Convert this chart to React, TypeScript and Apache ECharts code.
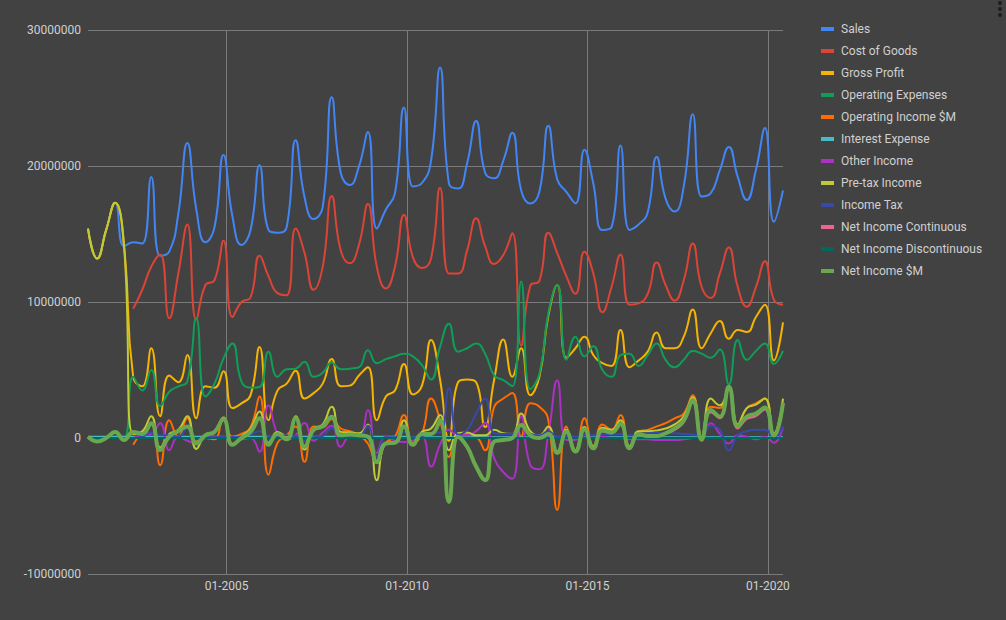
import React, { useEffect, useRef } from "react";
import * as echarts from "echarts";

// quarter ends, March 2001 .. June 2020
const quarters = [
  "2001-03", "2001-06", "2001-09", "2001-12",
  "2002-03", "2002-06", "2002-09", "2002-12",
  "2003-03", "2003-06", "2003-09", "2003-12",
  "2004-03", "2004-06", "2004-09", "2004-12",
  "2005-03", "2005-06", "2005-09", "2005-12",
  "2006-03", "2006-06", "2006-09", "2006-12",
  "2007-03", "2007-06", "2007-09", "2007-12",
  "2008-03", "2008-06", "2008-09", "2008-12",
  "2009-03", "2009-06", "2009-09", "2009-12",
  "2010-03", "2010-06", "2010-09", "2010-12",
  "2011-03", "2011-06", "2011-09", "2011-12",
  "2012-03", "2012-06", "2012-09", "2012-12",
  "2013-03", "2013-06", "2013-09", "2013-12",
  "2014-03", "2014-06", "2014-09", "2014-12",
  "2015-03", "2015-06", "2015-09", "2015-12",
  "2016-03", "2016-06", "2016-09", "2016-12",
  "2017-03", "2017-06", "2017-09", "2017-12",
  "2018-03", "2018-06", "2018-09", "2018-12",
  "2019-03", "2019-06", "2019-09", "2019-12",
  "2020-03", "2020-06",
];

const xTicks = ["2005-01-01", "2010-01-01", "2015-01-01", "2020-01-01"];
const yTicks = [-10000000, 0, 10000000, 20000000, 30000000];

// values in millions
const sales = [
  15.4, 13.2, 15.3, 17.3,
  14.1, 14.4, 14.3, 19.2,
  13.4, 13.7, 16.5, 21.7,
  16.8, 14.4, 15.5, 20.8,
  16.3, 14.2, 15.3, 20.05,
  15.3, 15.1, 15.5, 21.9,
  17.7, 16.1, 17.0, 25.05,
  19.5, 18.6, 19.95, 22.5,
  15.4, 16.8, 18.0, 24.3,
  18.5, 18.75, 20.4, 27.25,
  18.7, 18.35, 20.2, 23.3,
  19.5, 19.1, 20.4, 22.45,
  18.2, 17.25, 18.1, 22.96,
  19.0, 18.1, 17.25, 21.2,
  18.7, 15.3, 15.5, 21.5,
  15.3, 15.7, 16.6, 20.66,
  17.6, 16.65, 18.5, 23.8,
  17.75, 18.0, 19.7, 21.4,
  19.2, 17.5, 19.7, 22.8,
  15.9, 18.2,
];

const costOfGoods = [
  null, null, null, null,
  null, 9.5, 10.9, 12.6,
  13.5, 8.8, 12.1, 15.7,
  8.7, 11.25, 11.6, 14.5,
  8.9, 10.0, 10.35, 13.4,
  11.9, 10.65, 10.5, 15.4,
  13.6, 10.9, 12.6, 17.8,
  13.8, 12.85, 14.2, 17.2,
  12.6, 11.0, 12.6, 16.4,
  13.3, 12.5, 13.2, 18.4,
  12.1, 12.1, 13.8, 16.15,
  14.1, 12.8, 13.45, 15.05,
  6.8, 11.2, 11.55, 15.1,
  13.6, 11.9, 10.6, 13.7,
  12.1, 9.25, 11.1, 13.5,
  9.8, 9.9, 10.6, 12.9,
  11.25, 10.1, 11.6, 14.3,
  11.1, 10.3, 12.1, 14.0,
  11.1, 9.65, 11.1, 13.0,
  10.15, 9.8,
];

const grossProfit = [
  15.4, 13.2, 15.3, 17.3,
  14.1, 4.5, 3.8, 6.6,
  1.6, 4.6, 4.1, 6.1,
  1.45, 3.8, 3.7, 4.9,
  2.2, 2.55, 3.15, 6.7,
  1.3, 3.5, 4.0, 4.95,
  2.9, 3.3, 4.0, 5.8,
  3.8, 3.85, 4.6, 5.2,
  1.3, 3.05, 3.5, 5.45,
  3.2, 3.85, 7.2, 4.3,
  -0.2, 4.1, 4.3, 4.1,
  0.8, 4.3, 7.25, 4.5,
  6.6, 3.15, 4.5, 9.0,
  11.25, 5.9, 6.6, 7.45,
  6.1, 5.5, 5.3, 7.95,
  5.2, 5.7, 6.35, 7.75,
  6.6, 6.6, 7.45, 9.45,
  6.6, 7.7, 8.6, 7.3,
  7.95, 7.8, 8.9, 9.8,
  5.7, 8.5,
];

const operatingExpenses = [
  0, 0, 0, 0,
  0, 4.5, 3.5, 5.0,
  2.35, 3.4, 3.8, 4.15,
  8.8, 3.05, 4.0, 5.85,
  6.95, 4.15, 3.7, 3.75,
  6.35, 4.5, 5.05, 5.1,
  5.6, 4.5, 4.8, 5.55,
  5.05, 5.1, 5.2, 6.45,
  5.5, 5.8, 6.0, 6.2,
  6.0, 5.35, 4.3, 6.7,
  8.4, 6.35, 6.6, 6.95,
  6.2, 4.6, 4.25, 3.8,
  11.5, 3.6, 4.7, 9.2,
  11.25, 5.75, 7.45, 6.0,
  6.75, 5.0, 4.5, 6.1,
  6.2, 5.3, 6.1, 6.95,
  5.75, 5.2, 5.75, 6.4,
  6.2, 5.9, 6.5, 3.95,
  7.2, 5.75, 6.4, 6.95,
  5.45, 6.4,
];

const operatingIncome = [
  null, null, null, null,
  null, -0.5, 0.45, 1.0,
  -2.0, 1.3, 0.1, 1.45,
  -0.25, 0.0, -0.1, 1.4,
  0.1, 0.3, 0.8, 3.05,
  -2.7, -0.35, 0.2, 0.85,
  -1.75, 0.85, 0.8, 1.4,
  0.7, 0.5, 0.2, -0.4,
  -1.85, -0.35, 0.1, 1.7,
  -0.4, 0.3, 2.9, 1.3,
  -1.4, 0.3, 0.25, 0.1,
  -0.9, 2.3, 2.9, 3.3,
  0.1, 2.55, 2.3, 1.3,
  -5.3, 0.85, -0.9, 1.45,
  -0.6, 1.0, 0.6, 1.7,
  -0.76, 0.45, 0.6, 0.85,
  1.1, 1.45, 1.8, 3.15,
  0.1, 2.3, 2.2, 3.65,
  0.85, 2.2, 2.55, 2.9,
  0.35, 2.55,
];

const interestExpense = [
  0.1, 0.1, 0.1, 0.1,
  0.1, 0.1, 0.1, 0.1,
  0.1, 0.1, 0.1, 0.1,
  0.1, 0.1, 0.1, 0.1,
  0.1, 0.1, 0.1, 0.1,
  0.1, 0.1, 0.1, 0.1,
  0.1, 0.1, 0.1, 0.1,
  0.1, 0.1, 0.1, 0.1,
  0.1, 0.1, 0.1, 0.1,
  0.05, 0.05, 0.05, 0.05,
  0.05, 0.05, 0.05, 0.05,
  0.05, 0.05, 0.05, 0.05,
  0.05, 0.05, 0.05, 0.05,
  0.05, 0.05, 0.05, 0.05,
  0.05, 0.05, 0.05, 0.05,
  0.05, 0.05, 0.05, 0.05,
  0.05, 0.05, 0.05, 0.05,
  0.05, 0.05, 0.05, 0.05,
  0.05, 0.05, 0.05, 0.05,
  0.05, 0.05,
];

const otherIncome = [
  null, null, null, null,
  null, 0.0, 0.2, 0.3,
  1.08, -0.9, 0.1, -0.2,
  -0.4, 0.0, 0.1, 0.0,
  0.1, -0.1, 0.0, -1.0,
  2.4, 0.3, -0.1, 0.2,
  1.1, -0.2, 0.4, 0.9,
  -0.65, 0.1, 0.1, 2.05,
  -1.1, 0.1, -0.2, -0.3,
  -0.2, 0.1, -2.1, -0.5,
  0.6, 0.2, 0.2, 0.5,
  1.1, -1.5, -2.5, -3.0,
  1.6, -2.0, -2.3, 0.3,
  4.25, -0.15, -0.15, 0.2,
  0.0, 0.1, 0.0, 0.0,
  -0.1, -0.1, -0.1, -0.15,
  -0.15, -0.15, -0.1, 0.0,
  0.1, 1.08, 0.3, -0.4,
  0.2, 0.1, -0.1, 0.1,
  -0.35, 0.85,
];

const pretaxIncome = [
  15.4, 13.2, 15.3, 17.3,
  14.1, 0.3, 0.5, 1.6,
  -0.7, 0.3, 0.6, 1.6,
  -0.8, 0.25, 0.5, 1.5,
  -0.45, 0.1, 0.7, 1.95,
  -0.35, 0.45, 0.1, 1.6,
  -0.85, 0.65, 1.0, 2.3,
  0.45, 0.4, 0.35, 1.0,
  -3.1, -0.35, -0.3, 1.3,
  -0.45, 0.45, 0.7, 1.7,
  -0.9, 0.35, 0.4, 0.2,
  0.2, 0.6, 0.35, 0.3,
  1.8, 0.5, 0.2, 0.85,
  -1.0, 0.6, -0.9, 0.8,
  -0.6, 0.75, 0.6, 1.3,
  -0.6, 0.5, 0.5, 0.55,
  0.7, 1.0, 1.6, 3.0,
  0.1, 2.9, 2.4, 3.6,
  1.0, 2.2, 2.45, 2.9,
  0.3, 2.9,
];

const incomeTax = [
  null, null, null, null,
  null, 0.0, 0.1, 0.4,
  0.2, 0.2, 0.1, 0.7,
  -0.4, 0.05, 0.05, 0.15,
  0.05, 0.1, 0.25, 0.5,
  0.15, 0.15, 0.2, 0.15,
  -0.2, 0.05, 0.15, 0.7,
  0.25, 0.15, 0.15, 0.9,
  -1.35, 0.05, 0.05, 0.45,
  0.05, 0.15, 0.4, 0.4,
  3.65, 0.25, 0.6, 1.8,
  2.9, 0.35, 0.3, 0.3,
  0.8, 0.3, 0.2, 0.5,
  0.1, 0.15, 0.1, 0.2,
  0.2, 0.25, 0.25, 0.3,
  0.2, 0.25, 0.35, 0.4,
  0.35, 0.35, 0.3, 0.25,
  0.2, 0.9, 0.6, -0.9,
  0.2, 0.5, 0.6, 0.6,
  0.1, 0.85,
];

const netIncomeContinuous = [
  0.1, -0.25, 0.0, 0.45,
  -0.15, 0.45, 0.3, 1.08,
  -0.88, 0.1, 0.5, 0.85,
  -0.4, 0.2, 0.45, 1.37,
  -0.5, 0.0, 0.45, 1.45,
  -0.5, 0.3, -0.1, 1.45,
  -0.65, 0.6, 0.85, 1.57,
  0.2, 0.25, 0.2, 0.1,
  -1.75, -0.4, -0.35, 0.85,
  -0.5, 0.3, 0.3, 1.3,
  -4.6, 0.1, -0.6, -2.1,
  -3.1, -0.27, -0.15, 0.0,
  0.95, 0.2, 0.0, 0.3,
  -1.1, 0.4, -1.05, 0.6,
  -0.8, 0.5, 0.35, 1.0,
  -0.8, 0.25, 0.1, 0.1,
  0.3, 0.6, 1.15, 2.6,
  -0.2, 1.9, 1.45, 3.7,
  0.7, 1.4, 1.6, 2.1,
  0.1, 2.4,
];

const netIncomeDiscontinuous = [
  0, 0, 0, 0,
  0, 0, 0, 0,
  0, 0, 0, 0,
  0, 0, 0, 0,
  0, 0, 0, 0,
  0, 0, 0, 0,
  0, 0, 0, 0,
  0, 0, 0, 0,
  0, 0, 0, 0,
  0, 0, 0, 0,
  0, 0, 0, 0,
  0, 0, 0, 0,
  0, 0, 0, 0,
  0, 0, 0, 0,
  0, 0, 0, 0,
  0, 0, 0, 0,
  0, 0, 0, 0,
  0, 0, 0, 0,
  0, 0, 0, 0,
  0, 0,
];

const netIncome = [
  0.1, -0.25, 0.0, 0.45,
  -0.15, 0.45, 0.3, 1.08,
  -0.88, 0.1, 0.5, 0.85,
  -0.4, 0.2, 0.45, 1.37,
  -0.5, 0.0, 0.45, 1.45,
  -0.5, 0.3, -0.1, 1.45,
  -0.65, 0.6, 0.85, 1.57,
  0.2, 0.25, 0.2, 0.1,
  -1.75, -0.4, -0.35, 0.85,
  -0.5, 0.3, 0.3, 1.3,
  -4.7, 0.1, -0.65, -2.1,
  -3.1, -0.27, -0.15, 0.0,
  0.95, 0.2, 0.0, 0.3,
  -1.1, 0.46, -1.0, 0.64,
  -0.76, 0.55, 0.4, 1.03,
  -0.76, 0.3, 0.15, 0.15,
  0.35, 0.7, 1.3, 2.75,
  -0.1, 2.05, 1.57, 3.77,
  0.85, 1.57, 1.8, 2.25,
  0.2, 2.6,
];

const seriesList = [
  { name: "Sales", values: sales, color: "#4285f4" },
  { name: "Cost of Goods", values: costOfGoods, color: "#db4437" },
  { name: "Gross Profit", values: grossProfit, color: "#f4b400" },
  { name: "Operating Expenses", values: operatingExpenses, color: "#0f9d58" },
  { name: "Operating Income $M", values: operatingIncome, color: "#ff6d00" },
  { name: "Interest Expense", values: interestExpense, color: "#46bdc6" },
  { name: "Other Income", values: otherIncome, color: "#ab30c4" },
  { name: "Pre-tax Income", values: pretaxIncome, color: "#c0ca33" },
  { name: "Income Tax", values: incomeTax, color: "#3949ab" },
  { name: "Net Income Continuous", values: netIncomeContinuous, color: "#f06292" },
  { name: "Net Income Discontinuous", values: netIncomeDiscontinuous, color: "#00695c" },
  { name: "Net Income $M", values: netIncome, color: "#6aa84f", width: 4 },
];

const toTime = (s: string) => {
  const [y, m, d] = s.split("-").map(Number);
  return new Date(y, m - 1, d || 1).getTime();
};

const fmtMonth = (v: number) => {
  const d = new Date(v);
  return String(d.getMonth() + 1).padStart(2, "0") + "-" + d.getFullYear();
};

const labelColor = "#d0d0d0";
const gridColor = "#7b7b7b";

const App: React.FC = () => {
  const chartRef = useRef<HTMLDivElement | null>(null);

  useEffect(() => {
    if (!chartRef.current) return;
    const myChart = echarts.init(chartRef.current, null, { renderer: "svg" });

    const lineSeries = seriesList.map((s) => ({
      name: s.name,
      type: "line",
      smooth: 0.5,
      symbol: "none",
      showSymbol: false,
      color: s.color,
      lineStyle: { color: s.color, width: s.width || 2 },
      emphasis: { disabled: true },
      data: quarters.map((q, i) => [
        toTime(q + "-01"),
        s.values[i] == null ? null : (s.values[i] as number) * 1000000,
      ]),
    }));

    // vertical grid lines and their date labels
    const tickSeries = {
      name: "ticks",
      type: "line",
      data: [],
      silent: true,
      z: 1,
      markLine: {
        z: 1,
        silent: true,
        symbol: ["none", "none"],
        animation: false,
        lineStyle: { color: gridColor, width: 1, type: "solid" },
        label: {
          show: true,
          position: "start",
          distance: 6,
          color: labelColor,
          fontSize: 12,
          fontFamily: "Roboto",
          formatter: (p: any) => fmtMonth(p.value),
        },
        emphasis: { disabled: true },
        data: xTicks.map((t) => ({ xAxis: toTime(t) })),
      },
    };

    const option = {
      animation: false,
      backgroundColor: "#424242",
      textStyle: { fontFamily: "Roboto" },
      grid: { left: 88, right: 223, top: 30, bottom: 46 },
      legend: {
        orient: "vertical",
        left: 816,
        top: 17,
        icon: "rect",
        itemWidth: 13,
        itemHeight: 4,
        itemGap: 8,
        textStyle: { color: labelColor, fontSize: 12, lineHeight: 14, padding: [0, 0, 0, 2] },
        data: seriesList.map((s) => s.name),
      },
      xAxis: {
        type: "time",
        min: toTime("2001-03-01"),
        max: toTime("2020-06-01"),
        axisLine: { show: false },
        axisTick: { show: false },
        axisLabel: { show: false },
        splitLine: { show: false },
      },
      yAxis: {
        type: "value",
        min: yTicks[0],
        max: yTicks[yTicks.length - 1],
        interval: 10000000,
        axisLine: { show: false },
        axisTick: { show: false },
        axisLabel: { color: labelColor, fontSize: 12, margin: 7, formatter: (v: number) => String(v) },
        splitLine: { lineStyle: { color: gridColor, width: 1 } },
      },
      graphic: [
        { type: "circle", right: 4, top: 1, shape: { r: 2 }, style: { fill: "#1e1e1e" } },
        { type: "circle", right: 4, top: 7, shape: { r: 2 }, style: { fill: "#1e1e1e" } },
        { type: "circle", right: 4, top: 13, shape: { r: 2 }, style: { fill: "#1e1e1e" } },
      ],
      series: [tickSeries, ...lineSeries],
    };

    myChart.setOption(option);
    return () => {
      myChart.dispose();
    };
  }, []);

  return (
    <div
      ref={chartRef}
      style={{ position: "fixed", left: 0, top: 0, width: "1006px", height: "620px" }}
    />
  );
};

export default App;
